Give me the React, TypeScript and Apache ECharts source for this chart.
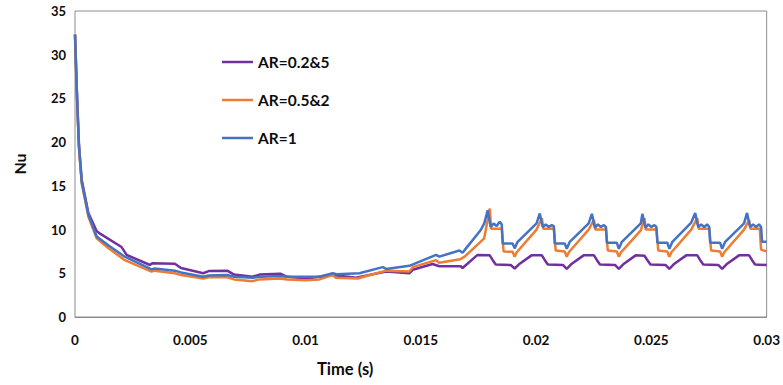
import React, { useEffect, useRef } from "react";
import * as echarts from "echarts";

const seriesNames = ["AR=0.2&5", "AR=0.5&2", "AR=1"];
const seriesColors = ["#7030A0", "#ED7D31", "#4472C4"];
const xTicks = [0, 0.005, 0.01, 0.015, 0.02, 0.025, 0.03];

// AR=0.2&5
const tPurple = [
  0, 0.00009, 0.00017, 0.00029, 0.00058, 0.00094, 0.00105, 0.00202, 0.00224, 0.00325, 0.00335, 0.00433,
  0.0046, 0.00556, 0.0058, 0.0066, 0.0069, 0.0077, 0.008, 0.0089, 0.0092, 0.01003,
  0.0106, 0.01118, 0.01219, 0.01349, 0.0145, 0.01465, 0.01551, 0.0158, 0.01674, 0.01681,
  0.01746,
  0.01799, 0.01812, 0.01825, 0.0189, 0.01907, 0.01929, 0.0198,
  0.02025, 0.02038, 0.02051, 0.02116, 0.02133, 0.02155, 0.02206,
  0.02251, 0.02264, 0.02277, 0.02342, 0.02359, 0.02381, 0.02432,
  0.0247, 0.02483, 0.02496, 0.02561, 0.02578, 0.026, 0.02651,
  0.02699, 0.02712, 0.02725, 0.0279, 0.02807, 0.02829, 0.0288,
  0.02924, 0.02937, 0.0295, 0.03,
];
const vPurple = [
  32.3, 25.2, 19.8, 15.7, 11.9, 9.8, 9.6, 8.0, 7.1, 5.95, 6.15, 6.1,
  5.6, 5.0, 5.25, 5.3, 4.85, 4.6, 4.85, 4.95, 4.6, 4.4,
  4.6, 4.8, 4.5, 5.2, 5.0, 5.4, 6.06, 5.8, 5.8, 5.6,
  7.1,
  7.05, 6.5, 6.0, 5.95, 5.55, 6.1, 7.05,
  7.05, 6.5, 6.0, 5.95, 5.5, 6.1, 7.05,
  7.05, 6.5, 6.0, 5.95, 5.5, 6.1, 7.05,
  7.0, 6.5, 6.0, 5.95, 5.5, 6.1, 7.05,
  7.05, 6.5, 6.0, 5.95, 5.5, 6.1, 7.05,
  7.05, 6.5, 6.0, 5.95,
];

// AR=0.5&2
const tOrange = [
  0, 0.00009, 0.00017, 0.00029, 0.00058, 0.00094, 0.00144, 0.00216, 0.00332, 0.00345, 0.00433, 0.0046,
  0.00556, 0.0058, 0.0066, 0.0069, 0.0077, 0.008, 0.0089, 0.0092, 0.01003, 0.0106,
  0.01118, 0.0113, 0.01227, 0.0128, 0.01349, 0.0145, 0.01465, 0.01566, 0.0158, 0.0167,
  0.0169, 0.01775,
  0.01799, 0.01805, 0.01851, 0.01859, 0.01898, 0.01907, 0.01916, 0.02002,
  0.02025, 0.02031, 0.02077, 0.02085, 0.02124, 0.02133, 0.02142, 0.02228,
  0.02251, 0.02257, 0.02303, 0.02311, 0.0235, 0.02359, 0.02368, 0.02454,
  0.0247, 0.02476, 0.02522, 0.0253, 0.02569, 0.02578, 0.02587, 0.02673,
  0.02699, 0.02705, 0.02751, 0.02759, 0.02798, 0.02807, 0.02816, 0.02902,
  0.02924, 0.0293, 0.0297, 0.02976, 0.03,
];
const vOrange = [
  32.3, 24.8, 19.4, 15.3, 11.5, 9.0, 7.9, 6.5, 5.2, 5.3, 5.0, 4.8,
  4.4, 4.55, 4.55, 4.3, 4.1, 4.3, 4.4, 4.3, 4.2, 4.3,
  4.8, 4.5, 4.4, 4.8, 5.3, 5.2, 5.7, 6.5, 6.2, 6.6,
  6.9, 9.0,
  12.4, 10.1, 10.1, 7.5, 7.45, 6.9, 7.4, 10.0,
  11.3, 10.1, 10.1, 7.6, 7.5, 6.9, 7.4, 10.0,
  11.1, 10.0, 10.0, 7.6, 7.5, 6.9, 7.4, 9.9,
  11.3, 10.0, 10.0, 7.6, 7.5, 6.9, 7.4, 10.0,
  11.3, 10.1, 10.1, 7.6, 7.5, 6.9, 7.4, 10.0,
  11.1, 10.1, 10.1, 7.7, 7.5,
];

// AR=1
const tBlue = [
  0, 0.00009, 0.00017, 0.00029, 0.00058, 0.00094, 0.00144, 0.00216, 0.00332, 0.00345, 0.00433, 0.0046,
  0.00556, 0.0058, 0.0066, 0.0069, 0.0077, 0.008, 0.0089, 0.0092, 0.01003, 0.0106,
  0.01118, 0.01135, 0.01234, 0.01335, 0.0135, 0.0145, 0.01566, 0.0158, 0.01667, 0.01681,
  0.01696, 0.0176, 0.01775,
  0.0179, 0.01803, 0.01816, 0.01829, 0.01842, 0.01851, 0.01855, 0.01898, 0.01907, 0.0192, 0.02002,
  0.02016, 0.02029, 0.02042, 0.02055, 0.02068, 0.02077, 0.02081, 0.02124, 0.02133, 0.02146, 0.02228,
  0.02242, 0.02255, 0.02268, 0.02281, 0.02294, 0.02303, 0.02307, 0.0235, 0.02359, 0.02372, 0.02454,
  0.02461, 0.02474, 0.02487, 0.025, 0.02513, 0.02522, 0.02526, 0.02569, 0.02578, 0.02591, 0.02673,
  0.0269, 0.02703, 0.02716, 0.02729, 0.02742, 0.02751, 0.02755, 0.02798, 0.02807, 0.0282, 0.02902,
  0.02915, 0.02928, 0.02941, 0.02954, 0.02967, 0.02976, 0.0298, 0.03,
];
const vBlue = [
  32.3, 25.0, 19.6, 15.5, 11.7, 9.2, 8.2, 6.9, 5.45, 5.55, 5.3, 5.1,
  4.6, 4.75, 4.8, 4.6, 4.5, 4.6, 4.7, 4.6, 4.6, 4.6,
  5.0, 4.9, 5.0, 5.7, 5.5, 5.85, 7.1, 6.9, 7.6, 7.35,
  7.85, 9.95, 10.7,
  12.2, 10.3, 10.7, 10.4, 10.9, 10.6, 8.4, 8.4, 7.85, 8.6, 10.7,
  11.85, 10.3, 10.6, 10.3, 10.5, 10.4, 8.4, 8.4, 7.8, 8.6, 10.7,
  11.8, 10.2, 10.6, 10.3, 10.5, 10.3, 8.5, 8.5, 7.8, 8.6, 10.7,
  11.8, 10.2, 10.6, 10.3, 10.5, 10.3, 8.5, 8.5, 7.8, 8.6, 10.8,
  11.9, 10.3, 10.6, 10.3, 10.6, 10.3, 8.5, 8.5, 7.8, 8.6, 10.7,
  11.9, 10.3, 10.6, 10.3, 10.6, 10.3, 8.6, 8.6,
];

const FONT = "Lato, 'Open Sans', sans-serif";

const pairs = (t: number[], v: number[]) => t.map((x, i) => [x, v[i]]);

export default function App() {
  const ref = useRef<HTMLDivElement>(null);
  useEffect(() => {
    if (!ref.current) return;
    const chart = echarts.init(ref.current, undefined, { renderer: "svg" });
    const datasets = [pairs(tPurple, vPurple), pairs(tOrange, vOrange), pairs(tBlue, vBlue)];
    chart.setOption({
      animation: false,
      backgroundColor: "#ffffff",
      grid: {
        left: 75,
        right: 15,
        top: 11,
        bottom: 68,
        show: true,
        borderColor: "#8c8c8c",
        borderWidth: 1,
      },
      legend: {
        show: true,
        orient: "vertical",
        left: 222,
        top: 54,
        padding: 0,
        icon: "rect",
        itemWidth: 31,
        itemHeight: 2.5,
        itemGap: 22,
        data: seriesNames.map((n, i) => ({ name: n, itemStyle: { color: seriesColors[i] } })),
        textStyle: { fontFamily: FONT, fontWeight: "bold", fontSize: 15.5, color: "#0d0d0d", padding: [0, 0, 0, 0] },
      },
      xAxis: {
        type: "value",
        min: 0,
        max: 0.03,
        interval: 0.005,
        axisLine: { show: true, lineStyle: { color: "#8c8c8c" } },
        axisTick: { show: false },
        splitLine: { show: false },
        axisLabel: {
          margin: 16,
          fontFamily: FONT,
          fontWeight: "bold",
          fontSize: 13.5,
          color: "#0d0d0d",
          formatter: (v: number) => {
            const m = xTicks.find((x) => Math.abs(x - v) < 1e-9);
            return String(m !== undefined ? m : +v.toFixed(3));
          },
        },
      },
      yAxis: {
        type: "value",
        min: 0,
        max: 35,
        interval: 5,
        name: "Nu",
        nameLocation: "middle",
        nameGap: 48,
        nameTextStyle: { fontFamily: FONT, fontWeight: "bold", fontSize: 16, color: "#0d0d0d" },
        axisLine: { show: false },
        axisTick: { show: false },
        splitLine: { show: false },
        axisLabel: {
          margin: 9,
          fontFamily: FONT,
          fontWeight: "bold",
          fontSize: 13,
          color: "#0d0d0d",
        },
      },
      graphic: [
        {
          type: "text",
          left: 317,
          top: 360,
          style: {
            text: "Time (s)",
            fontFamily: FONT,
            fontWeight: "bold",
            fontSize: 16.5,
            fill: "#0d0d0d",
          },
        },
      ],
      series: seriesNames.map((name, i) => ({
        name,
        type: "line",
        data: datasets[i],
        symbol: "none",
        showSymbol: false,
        lineStyle: { color: seriesColors[i], width: 2.5 },
        itemStyle: { color: seriesColors[i] },
        z: 2 + i,
      })),
    });
    return () => chart.dispose();
  }, []);
  return <div ref={ref} style={{ width: 783, height: 385, position: "absolute", left: 0, top: 0 }} />;
}
